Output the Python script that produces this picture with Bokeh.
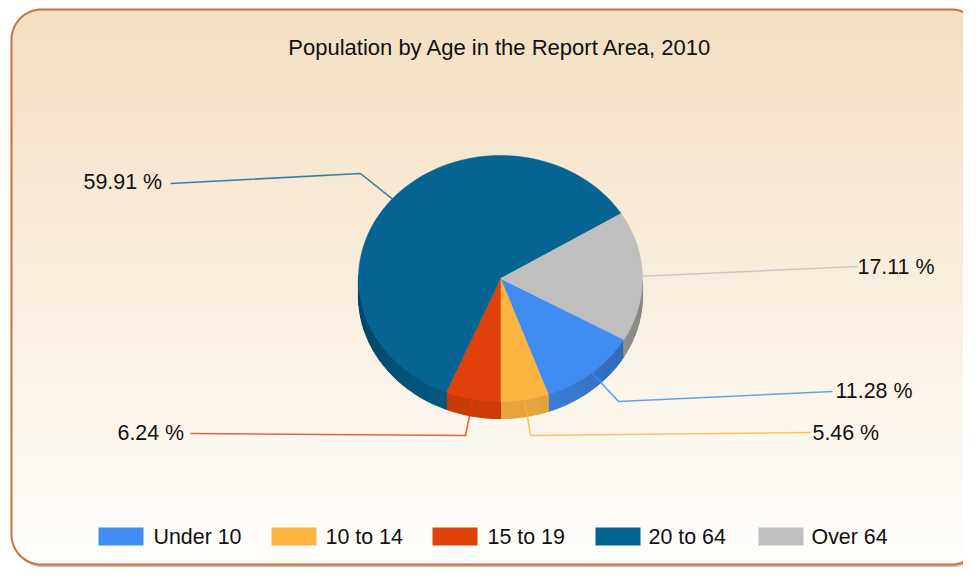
import math
from bokeh.plotting import figure
from bokeh.core.properties import value
from bokeh.embed import file_html
from bokeh.resources import INLINE

# ---- data
categories = ["Under 10", "10 to 14", "15 to 19", "20 to 64", "Over 64"]
percent = [11.28, 5.46, 6.24, 59.91, 17.11]
colors = ["#418CF0", "#FCB441", "#E0400A", "#056492", "#BFBFBF"]
title = "Population by Age in the Report Area, 2010"

# ---- layout (picture pixels)
W, H = 963, 568
CX, CY, RX, RY, DEPTH = 500.0, 278.0, 142.0, 123.0, 17.0
L, T, R, B, RAD = 11.0, 9.0, 981.0, 564.0, 30.0
FONT = value("Liberation Sans")
FS = "21.4px"
INK = "#111111"

p = figure(width=W, height=H, x_range=(0, W), y_range=(-H, 0),
           output_backend="svg", toolbar_location=None, min_border=0,
           outline_line_color=None, background_fill_color="white",
           border_fill_color="white")
p.xaxis.visible = False
p.yaxis.visible = False
p.grid.visible = False


def corner_inset(py):
    d = 0.0
    if py < T + RAD:
        d = RAD - math.sqrt(max(RAD**2 - (T + RAD - py) ** 2, 0))
    elif py > B - RAD:
        d = RAD - math.sqrt(max(RAD**2 - (py - (B - RAD)) ** 2, 0))
    return d


def lerp_hex(c0, c1, t):
    return "#%02x%02x%02x" % tuple(round(a + (b - a) * t) for a, b in zip(c0, c1))


def rounded(l, t, r, b, rad):
    xs, ys = [], []
    for cx, cy, a0 in [(r - rad, t + rad, 90), (r - rad, b - rad, 0),
                       (l + rad, b - rad, 270), (l + rad, t + rad, 180)]:
        for k in range(0, 19):
            a = math.radians(a0 - k * 5)
            xs.append(cx + rad * math.cos(a))
            ys.append(-(cy - rad * math.sin(a)))
    return xs, ys


# shadow under the panel
sx, sy = rounded(L + 1, T + 3, R + 1, B + 2.5, RAD)
p.patch(sx, sy, fill_color="#9a9a9a", fill_alpha=0.6, line_color=None)

# gradient panel: a solid base, then rows from the bottom up so each overlaps the next
bx, by = rounded(L, T, R, B, RAD)
p.patch(bx, by, fill_color="#F9EEDF", fill_alpha=1.0, line_color=None)
rows = list(range(int(T), int(B)))
g_l, g_r, g_t, g_b, g_c = [], [], [], [], []
for py in rows:
    ins = corner_inset(py + 0.5)
    next_ins = corner_inset(py + 1.5)
    ins2 = max(ins, next_ins) if py + 1 < B else ins
    g_l.append(L + ins2)
    g_r.append(R - ins2)
    g_t.append(-py)
    g_b.append(-min(py + 2, B))
    g_c.append(lerp_hex((243, 223, 193), (255, 254, 252), (py - T) / (B - T)))
p.quad(left=g_l, right=g_r, top=g_t, bottom=g_b, fill_color=g_c, fill_alpha=1.0, line_color=None)

p.patch(bx, by, fill_color=None, line_color="#C9713F", line_width=2)


def pt(deg, dy=0.0):
    a = math.radians(deg)
    return CX + RX * math.cos(a), -(CY + dy - RY * math.sin(a))


def shade(col, f):
    rgb = [int(col[i:i + 2], 16) for i in (1, 3, 5)]
    return "#%02x%02x%02x" % tuple(round(v * f) for v in rgb)


# slice angles: clockwise, the 10-14 / 15-19 boundary sits straight down
start = -90.0 + (percent[0] + percent[1]) * 3.6
edges = [start]
for v in percent:
    edges.append(edges[-1] - v * 3.6)

# side wall of the pie
for i, col in enumerate(colors):
    hi, lo = edges[i], edges[i + 1]
    a = hi
    while a > lo + 1e-9:
        b = max(a - 3.0, lo)
        s = math.sin(math.radians((a + b) / 2))
        if s < 0:
            x0, y0 = pt(a)
            x1, y1 = pt(b)
            x2, y2 = pt(b, DEPTH)
            x3, y3 = pt(a, DEPTH)
            c = shade(col, 0.70 + 0.22 * s * s)
            p.patch([x0, x1, x2, x3], [y0, y1, y2, y3], fill_color=c, fill_alpha=1.0,
                    line_color=c, line_width=1.2)
        a = b

# top face
mids = []
for i, col in enumerate(colors):
    hi, lo = edges[i], edges[i + 1]
    n = max(int((hi - lo) / 2), 2)
    arc = [pt(hi + (lo - hi) * k / n) for k in range(n + 1)]
    xs = [CX] + [q[0] for q in arc]
    ys = [-CY] + [q[1] for q in arc]
    p.patch(xs, ys, fill_color=col, fill_alpha=1.0, line_color=col, line_width=0.5)
    mids.append((hi + lo) / 2)

# leader lines: start on the slice, then through layout points
leader_via = [[(618, 401), (832, 391)], [(530, 435), (810, 432)], [(465, 435), (190, 433)],
              [(360, 173), (170, 183)], [(857, 266)]]
label_xy = [(835, 390), (812, 432), (117, 432), (83, 181), (857, 266)]
for i, col in enumerate(colors):
    x0, y0 = pt(mids[i])
    xs = [x0] + [q[0] for q in leader_via[i]]
    ys = [y0] + [-q[1] for q in leader_via[i]]
    p.line(xs, ys, line_color=col, line_width=1.6, line_alpha=0.8)
    p.text([label_xy[i][0]], [-label_xy[i][1]], text=["%.2f %%" % percent[i]],
           text_font=FONT, text_font_size=FS, text_color=INK,
           text_baseline="middle", text_align="left")

# title
p.text([500], [-47], text=[title], text_font=FONT, text_font_size="22px", text_color=INK,
       text_align="center", text_baseline="middle")

# legend
swatch_left = [98, 271, 432, 595, 758]
legend_text_left = [153, 325, 487, 648, 811]
for i, col in enumerate(colors):
    sl = swatch_left[i]
    p.quad(left=[sl], right=[sl + 45], top=[-527], bottom=[-545], fill_color=col, fill_alpha=1.0,
           line_color=None)
    p.text([legend_text_left[i]], [-536], text=[categories[i]], text_font=FONT, text_font_size=FS,
           text_color=INK, text_baseline="middle", text_align="left")

open("out.html", "w").write(file_html(p, INLINE))
